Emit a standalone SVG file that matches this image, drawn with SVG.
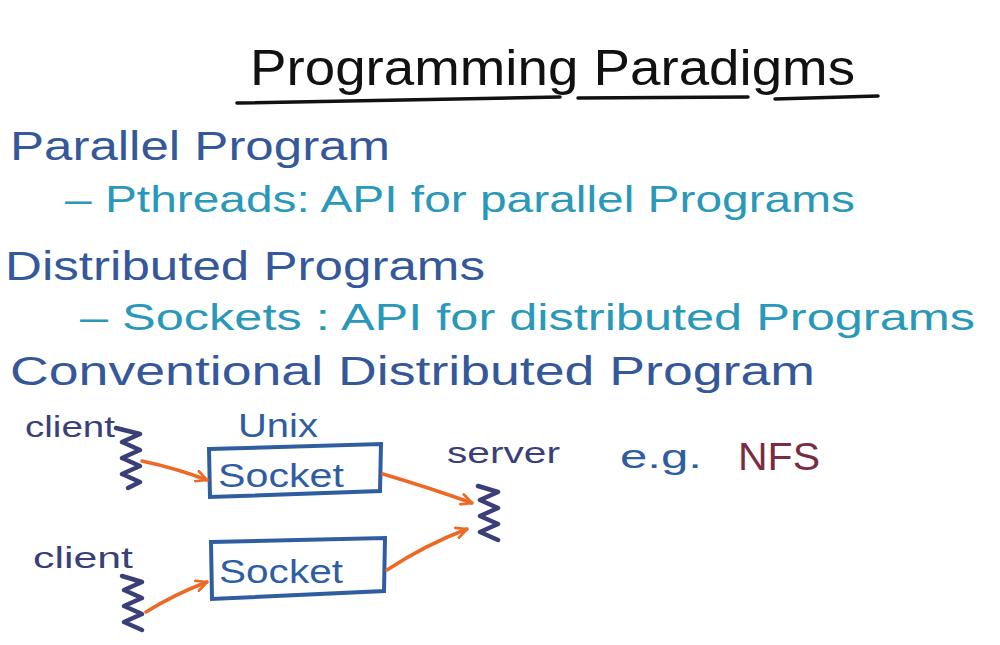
<svg xmlns="http://www.w3.org/2000/svg" width="1000" height="645" viewBox="0 0 1000 645">
<defs>
<style>
.t{font-family:"Liberation Sans","DejaVu Sans",sans-serif;}
.title{fill:#111;font-size:50px;}
.h{fill:#35589a;font-size:40px;}
.sub{fill:#2a98b8;font-size:36px;}
.lbl{fill:#3b3f78;font-size:30px;}
.blue{fill:#2f5ea0;font-size:34px;}
.nfs{fill:#7a2c42;font-size:38px;}
.ul{stroke:#111;stroke-width:3.5;fill:none;stroke-linecap:round;}
.box{stroke:#2f5ea0;stroke-width:4;fill:none;}
.sq{stroke:#3b3f78;stroke-width:4.5;fill:none;stroke-linecap:round;stroke-linejoin:round;}
.arr{stroke:#ec6a26;stroke-width:3.5;fill:none;stroke-linecap:round;}
</style>
<marker id="ah" viewBox="0 0 12 12" refX="11" refY="6" markerWidth="13" markerHeight="13" markerUnits="userSpaceOnUse" orient="auto">
<path d="M1,1 L11,6 L1,11" fill="none" stroke="#ec6a26" stroke-width="2.5" stroke-linecap="round"/>
</marker>
</defs>
<rect width="1000" height="645" fill="#fff"/>
<g id="title">
<text class="t title" x="250" y="85" textLength="605" lengthAdjust="spacingAndGlyphs">Programming Paradigms</text>
<path class="ul" d="M237,103 L560,97"/>
<path class="ul" d="M578,98 L748,97"/>
<path class="ul" d="M775,99 L878,96"/>
</g>
<g id="text-lines">
<text class="t h" x="10" y="160" textLength="380" lengthAdjust="spacingAndGlyphs">Parallel Program</text>
<text class="t sub" x="65" y="212" textLength="790" lengthAdjust="spacingAndGlyphs">– Pthreads: API for parallel Programs</text>
<text class="t h" x="5" y="280" textLength="480" lengthAdjust="spacingAndGlyphs">Distributed Programs</text>
<text class="t sub" x="80" y="330" textLength="895" lengthAdjust="spacingAndGlyphs">– Sockets : API for distributed Programs</text>
<text class="t h" x="10" y="385" textLength="805" lengthAdjust="spacingAndGlyphs">Conventional Distributed Program</text>
</g>
<g id="client1">
<text class="t lbl" x="25" y="437" textLength="90" lengthAdjust="spacingAndGlyphs">client</text>
<path class="sq" d="M116,428 L140,434 L122,442 L140,450 L122,458 L140,466 L122,474 L140,482 L128,488"/>
</g>
<g id="client2">
<text class="t lbl" x="33" y="568" textLength="100" lengthAdjust="spacingAndGlyphs">client</text>
<path class="sq" d="M122,576 L142,582 L124,590 L142,598 L124,606 L142,614 L124,622 L142,630"/>
</g>
<g id="unix-label">
<text class="t blue" x="238" y="437" textLength="80" lengthAdjust="spacingAndGlyphs">Unix</text>
</g>
<g id="socket1">
<path class="box" d="M209,449 L381,444 L380,491 L210,497 Z"/>
<text class="t blue" x="218" y="487" textLength="126" lengthAdjust="spacingAndGlyphs">Socket</text>
</g>
<g id="socket2">
<path class="box" d="M211,542 L385,538 L384,591 L212,599 Z"/>
<text class="t blue" x="219" y="583" textLength="124" lengthAdjust="spacingAndGlyphs">Socket</text>
</g>
<g id="server">
<text class="t lbl" x="447" y="463" textLength="113" lengthAdjust="spacingAndGlyphs">server</text>
<path class="sq" d="M478,486 L498,492 L480,500 L498,508 L480,516 L498,524 L480,532 L498,540"/>
</g>
<g id="nfs-note">
<text class="t blue" x="620" y="468" textLength="82" lengthAdjust="spacingAndGlyphs">e.g.</text>
<text class="t nfs" x="738" y="470" textLength="82" lengthAdjust="spacingAndGlyphs">NFS</text>
</g>
<g id="connectors">
<path class="arr" d="M142,461 Q175,468 207,480" marker-end="url(#ah)"/>
<path class="arr" d="M383,474 Q430,488 472,503" marker-end="url(#ah)"/>
<path class="arr" d="M387,570 Q425,545 467,529" marker-end="url(#ah)"/>
<path class="arr" d="M146,612 Q175,594 207,582" marker-end="url(#ah)"/>
</g>
</svg>
